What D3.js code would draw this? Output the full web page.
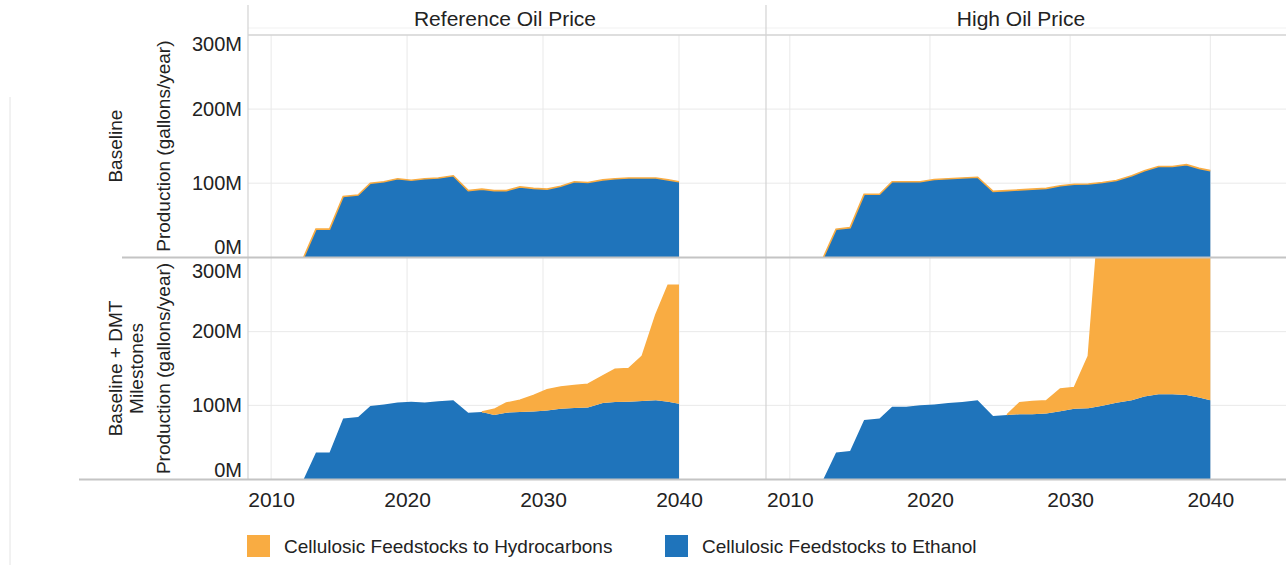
<!DOCTYPE html>
<html>
<head>
<meta charset="utf-8">
<script src="https://cdn.jsdelivr.net/npm/d3@7"></script>
<style>
  body { margin: 0; background: #fff; }
  svg { display: block; font-family: "Liberation Sans", Arial, sans-serif; }
</style>
</head>
<body>
<div id="chart"></div>
<script>
// ---- data (million gallons / year) ----
var years = [2012.4, 2013.3, 2014.3, 2015.3, 2016.4, 2017.3, 2018.3, 2019.3, 2020.3, 2021.3,
             2022.3, 2023.4, 2024.5, 2025.5, 2026.4, 2027.3, 2028.3, 2029.3, 2030.3, 2031.3,
             2032.3, 2033.3, 2034.4, 2035.3, 2036.3, 2037.3, 2038.3, 2039.2, 2040];

var refBaseEthanol = [0, 38, 38, 82, 84, 100, 102, 106, 104, 106,
                      107, 110, 90, 92, 90, 90, 95, 93, 92, 96,
                      102, 101, 104.5, 106, 107, 107, 107, 104.5, 102];
var refBaseHydro   = [0, 0, 0, 0, 0, 0, 0, 0, 0, 0,
                      0, 0, 0, 0, 0, 0, 0, 0, 0, 0,
                      0, 0, 0, 0, 0, 0, 0, 0, 0];

var refDmtEthanol  = [0, 36, 36, 82, 84, 99, 101, 104, 105, 104,
                      105.5, 107, 90, 91, 87, 90, 91, 91.5, 93, 95.5,
                      96.5, 97, 103, 104.5, 105, 106, 107, 105, 102];
var refDmtHydro    = [null, null, null, null, null, null, null, null, null, null,
                      null, null, null, 0, 7.5, 13, 16, 22, 28, 29.5,
                      30.5, 31.6, 37, 44.5, 45, 61, 116, 158, 161];

var highBaseEthanol = [0, 38, 40, 85, 85, 102, 102, 102, 105, 106,
                       107, 108, 89, 90, 91, 92, 93, 96.5, 98.6, 99,
                       101, 103.6, 110, 116.7, 122.5, 122.5, 125, 120, 117];
var highBaseHydro   = [0, 0, 0, 0, 0, 0, 0, 0, 0, 0,
                       0, 0, 0, 0, 0, 0, 0, 0, 0, 0,
                       0, 0, 0, 0, 0, 0, 0, 0, 0];

var highDmtEthanol  = [0, 36, 38, 80, 82, 98, 98, 100, 101, 103,
                       104.5, 107, 85.5, 87, 88, 88, 89, 92, 95.5, 96,
                       99.5, 103.6, 107, 112, 115, 115, 114, 110.5, 107];
var highDmtHydro    = [null, null, null, null, null, null, null, null, null, null,
                       null, null, null, 0, 15.6, 17, 17, 30, 28.5, 71,
                       310, 380, 400, 410, 420, 430, 440, 445, 450];

var columns = ["Reference Oil Price", "High Oil Price"];
var rowLabels = [["Baseline"], ["Baseline + DMT", "Milestones"]];
var yTicks = [0, 100, 200, 300];
var xTicks = [2010, 2020, 2030, 2040];
var seriesNames = ["Cellulosic Feedstocks to Hydrocarbons", "Cellulosic Feedstocks to Ethanol"];

var panels = [
    { row: 0, col: 0, ethanol: refBaseEthanol,  hydro: refBaseHydro },
    { row: 0, col: 1, ethanol: highBaseEthanol, hydro: highBaseHydro },
    { row: 1, col: 0, ethanol: refDmtEthanol,   hydro: refDmtHydro },
    { row: 1, col: 1, ethanol: highDmtEthanol,  hydro: highDmtHydro }
];

// ---- layout ----
var W = 1286, H = 565;
var colX = [[248, 766], [766, 1300]];
var rowY = [[35, 257.3], [258, 479]];
var labelInset = [[10, 9.5], [14, 8]];   // keep end tick labels inside the pane
var headerCenter = [505, 1021];
var cBlue = '#1f74bb', cOrange = '#f9ac42';
var gridCol = '#e9e9e9', borderCol = '#d3d3d3', textCol = '#222';

var svg = d3.select('#chart').append('svg').attr('width', W).attr('height', H);

var xs = colX.map(function(r){ return d3.scaleLinear().domain([2008.3, 2046.4]).range(r); });
var ys = rowY.map(function(r){ return d3.scaleLinear().domain([0, 300]).range([r[1], r[0]]); });

var defs = svg.append('defs');

// gridlines
var grid = svg.append('g');
panels.forEach(function(p){
    var x = xs[p.col], y = ys[p.row];
    var r = colX[p.col], t = rowY[p.row];
    grid.selectAll(null).data(xTicks).enter().append('line')
        .attr('x1', function(d){ return x(d) }).attr('x2', function(d){ return x(d) })
        .attr('y1', t[0]).attr('y2', t[1])
        .attr('stroke', gridCol).attr('stroke-width', 1);
    grid.selectAll(null).data([100, 200]).enter().append('line')
        .attr('x1', r[0]).attr('x2', r[1])
        .attr('y1', function(d){ return y(d) }).attr('y2', function(d){ return y(d) })
        .attr('stroke', gridCol).attr('stroke-width', 1);
});

// areas
panels.forEach(function(p, i){
    var x = xs[p.col], y = ys[p.row];
    var r = colX[p.col], t = rowY[p.row];
    var rows = years.map(function(yr, k){
        return { year: yr, e: p.ethanol[k], h: p.hydro[k] };
    });

    defs.append('clipPath').attr('id', 'clip' + i)
        .append('rect').attr('x', r[0]).attr('y', t[0])
        .attr('width', r[1] - r[0]).attr('height', t[1] - t[0]);

    var g = svg.append('g').attr('clip-path', 'url(#clip' + i + ')');

    var hydroArea = d3.area()
        .defined(function(d){ return d.h != null })
        .x(function(d){ return x(d.year) })
        .y0(function(d){ return y(d.e) })
        .y1(function(d){ return y(d.e + d.h) });
    var ethArea = d3.area()
        .x(function(d){ return x(d.year) })
        .y0(y(0))
        .y1(function(d){ return y(d.e) });
    var topLine = d3.line()
        .defined(function(d){ return d.h != null })
        .x(function(d){ return x(d.year) })
        .y(function(d){ return y(d.e + d.h) });

    g.append('path').datum(rows).attr('d', ethArea).attr('fill', cBlue);
    g.append('path').datum(rows).attr('d', hydroArea).attr('fill', cOrange);
    g.append('path').datum(rows).attr('d', topLine)
        .attr('fill', 'none').attr('stroke', cOrange).attr('stroke-width', 1.6);
});

// frame lines
var frame = svg.append('g');
frame.append('line').attr('x1', 248).attr('x2', W).attr('y1', 28).attr('y2', 28)
    .attr('stroke', '#f1f1f1').attr('stroke-width', 1);
frame.append('line').attr('x1', 248).attr('x2', W).attr('y1', 35).attr('y2', 35)
    .attr('stroke', borderCol).attr('stroke-width', 1.5);
[248, 766].forEach(function(v){
    frame.append('line').attr('x1', v).attr('x2', v).attr('y1', 5).attr('y2', 479)
        .attr('stroke', borderCol).attr('stroke-width', 1.2);
});
frame.append('line').attr('x1', 122).attr('x2', W).attr('y1', 257.5).attr('y2', 257.5)
    .attr('stroke', '#c4c4c4').attr('stroke-width', 1.8);
frame.append('line').attr('x1', 79).attr('x2', W).attr('y1', 479.5).attr('y2', 479.5)
    .attr('stroke', '#c4c4c4').attr('stroke-width', 1.8);
frame.append('line').attr('x1', 10).attr('x2', 10).attr('y1', 97).attr('y2', H)
    .attr('stroke', '#e4e4e4').attr('stroke-width', 1);

// column headers
svg.selectAll('.colhead').data(columns).enter().append('text')
    .attr('class', 'colhead')
    .attr('x', function(d, i){ return headerCenter[i] })
    .attr('y', 26)
    .attr('text-anchor', 'middle')
    .attr('font-size', 21)
    .attr('fill', textCol)
    .text(function(d){ return d });

// y axes
rowY.forEach(function(t, ri){
    var y = ys[ri];
    var ax = svg.append('g').attr('transform', 'translate(248,0)')
        .call(d3.axisLeft(y).tickValues(yTicks).tickSize(0).tickPadding(6)
            .tickFormat(function(d){ return d + 'M' }));
    ax.select('.domain').remove();
    ax.selectAll('.tick')
        .attr('transform', function(d){
            var v = Math.max(t[0] + labelInset[ri][0], Math.min(t[1] - labelInset[ri][1], y(d)));
            return 'translate(0,' + v + ')';
        });
    ax.selectAll('text').attr('font-size', 20).attr('fill', textCol)
        .attr('font-family', '"Liberation Sans", Arial, sans-serif');

    var cy = (t[0] + t[1]) / 2;
    // axis title
    svg.append('text')
        .attr('transform', 'translate(170,' + cy + ') rotate(-90)')
        .attr('text-anchor', 'middle')
        .attr('font-size', 19).attr('fill', textCol)
        .text('Production (gallons/year)');
    // row header
    rowLabels[ri].forEach(function(s, li){
        svg.append('text')
            .attr('transform', 'translate(' + (122 + li * 21) + ',' + cy + ') rotate(-90)')
            .attr('text-anchor', 'middle')
            .attr('font-size', 19).attr('fill', textCol)
            .text(s);
    });
});

// x axes
xs.forEach(function(x){
    var ax = svg.append('g').attr('transform', 'translate(0,479)')
        .call(d3.axisBottom(x).tickValues(xTicks).tickSize(0).tickPadding(13)
            .tickFormat(d3.format('d')));
    ax.select('.domain').remove();
    ax.selectAll('text').attr('font-size', 21).attr('fill', textCol)
        .attr('font-family', '"Liberation Sans", Arial, sans-serif');
});

// legend
var legX = [247, 665];
var leg = svg.selectAll('.leg').data(seriesNames).enter().append('g')
    .attr('class', 'leg')
    .attr('transform', function(d, i){ return 'translate(' + legX[i] + ',535)' });
leg.append('rect').attr('width', 23).attr('height', 22)
    .attr('fill', function(d, i){ return i === 0 ? cOrange : cBlue });
leg.append('text').attr('x', 37).attr('y', 18)
    .attr('font-size', 19).attr('fill', textCol)
    .text(function(d){ return d });
</script>
</body>
</html>
